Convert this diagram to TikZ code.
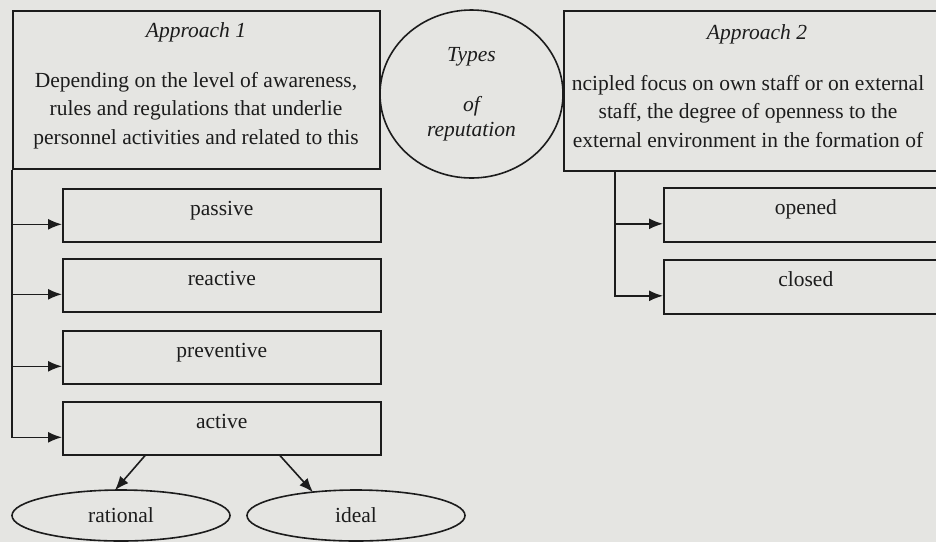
\documentclass[tikz,border=0pt]{standalone}
\usepackage{fontspec}
\setmainfont{Liberation Serif}
\usetikzlibrary{arrows.meta,calc,shapes.geometric}
\definecolor{paper}{RGB}{229,229,226}
\definecolor{ink}{RGB}{28,28,28}
\begin{document}
\begin{tikzpicture}[x=1pt,y=-1pt,
  every node/.style={inner sep=0pt, text=ink},
  txt/.style={font=\fontsize{21.5}{28.5}\selectfont},
  frame/.style={draw=ink, line width=1.6pt, rectangle, anchor=north west},
  kind/.style={frame, txt, minimum width=318pt, minimum height=53pt,
    text height=10pt, text depth=10pt},
  sidekind/.style={frame, txt, minimum width=284pt, minimum height=54pt,
    text height=10pt, text depth=10pt},
  oval/.style={draw=ink, line width=1.6pt, ellipse, txt,
    minimum width=218pt, minimum height=51pt},
  body/.style={txt, align=center, anchor=base},
  wire/.style={draw=ink, line width=1.6pt},
  arr/.style={wire, -{Latex[length=14pt,width=11pt]}},
  ]
% paper and page frame
\fill[paper] (0,0) rectangle (936,542);
\useasboundingbox (0,0) rectangle (936,542);
\clip (0,0) rectangle (936,542);

% central circle
\node[draw=ink, line width=1.6pt, ellipse, minimum width=183pt, minimum height=168pt,
      txt, align=center, font=\fontsize{21.5}{28.5}\selectfont\itshape]
  (types) at (471.5,94) {Types\\[22pt]of\\[-3.5pt]reputation};

% approach 1 (text anchored at the baseline of its last line)
\node[frame, minimum width=367pt, minimum height=158pt] (a1) at (12,10) {};
\node[body, font=\fontsize{21.5}{28.5}\selectfont\itshape] (a1head) at (196,37) {Approach 1};
\node[body] (a1text) at (196,144) {Depending on the level of awareness,\\
  rules and regulations that underlie\\ personnel activities and related to this};

% approach 2
\node[frame, minimum width=400pt, minimum height=160pt] (a2) at (563,10) {};
\node[body, font=\fontsize{21.5}{28.5}\selectfont\itshape] (a2head) at (757,39) {Approach 2};
\node[body] (a2text) at (748,147) {ncipled focus on own staff or on external\\
  staff, the degree of openness to the\\ external environment in the formation of};

% kinds under approach 1
\node[kind] (passive) at (62,188) {passive};
\node[kind] (reactive) at (62,258) {reactive};
\node[kind] (preventive) at (62,330) {preventive};
\node[kind] (active) at (62,401) {active};

% kinds under approach 2
\node[sidekind] (opened) at (663,187) {opened};
\node[sidekind] (closed) at (663,259) {closed};

% forms of active reputation
\node[oval] (rational) at (121,515.5) {rational};
\node[oval] (ideal) at (356,515.5) {ideal};

% arrow entry points
\coordinate (pin) at ($(passive.west)+(0,9)$);
\coordinate (rin) at ($(reactive.west)+(0,9)$);
\coordinate (vin) at ($(preventive.west)+(0,9)$);
\coordinate (ain) at ($(active.west)+(0,9)$);
\coordinate (oin) at ($(opened.west)+(0,9)$);
\coordinate (cin) at ($(closed.west)+(0,9)$);
\coordinate (rtrunk) at ($(a2.south west)+(52,0)$);

% left trunk
\draw[arr] (a1.south west) |- (ain);
\draw[arr] (a1.south west |- pin) -- (pin);
\draw[arr] (a1.south west |- rin) -- (rin);
\draw[arr] (a1.south west |- vin) -- (vin);

% right trunk
\draw[arr] (rtrunk) |- (cin);
\draw[arr] (rtrunk |- oin) -- (oin);

% active splits in two
\draw[arr] ($(active.south west)+(83,0)$) -- ($(rational.north)+(-6,1)$);
\draw[arr] ($(active.south west)+(218,0)$) -- ($(ideal.north)+(-43,3)$);
\end{tikzpicture}
\end{document}
